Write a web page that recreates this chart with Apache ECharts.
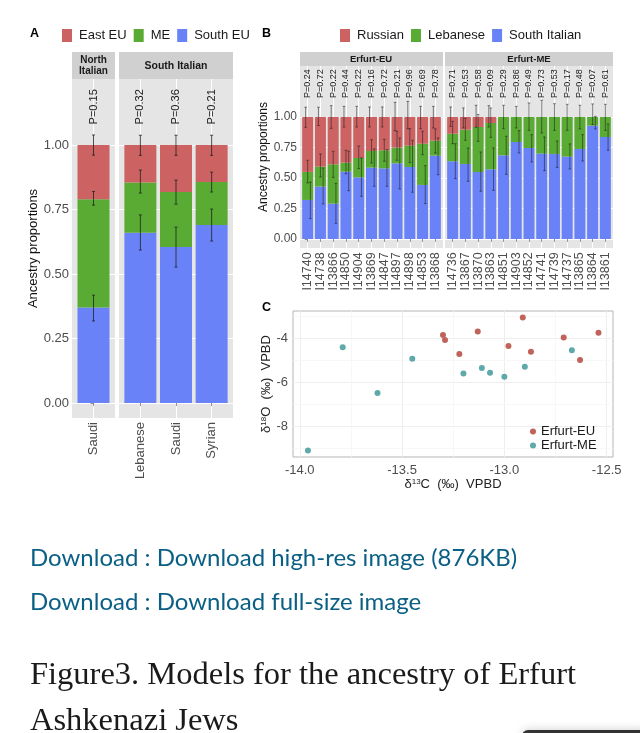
<!DOCTYPE html>
<html>
<head>
<meta charset="utf-8">
<style>html,body{margin:0;padding:0;background:#fff}#main{width:640px;height:733px}</style>
<script src="https://cdn.jsdelivr.net/npm/echarts@6/dist/echarts.min.js"></script>
</head>
<body>
<div id="main"></div>
<script>
// panel A
var aNames = ['Saudi', 'Lebanese', 'Saudi', 'Syrian'];
var aP = ['P=0.15', 'P=0.32', 'P=0.36', 'P=0.21'];
var aSouth = [0.37, 0.66, 0.605, 0.69];
var aMe = [0.42, 0.195, 0.213, 0.167];
var aEast = [0.21, 0.145, 0.182, 0.143];
var aEastErr = [[0.961, 1.039], [0.96, 1.038], [0.96, 1.038], [0.96, 1.038]];
var aMeErr = [[0.767, 0.82], [0.814, 0.903], [0.771, 0.864], [0.818, 0.895]];
var aSouthErr = [[0.318, 0.418], [0.593, 0.729], [0.527, 0.682], [0.628, 0.752]];

// panel B
var euNames = ['I14740', 'I14738', 'I13866', 'I14850', 'I14904', 'I13869', 'I14847', 'I14897', 'I14898', 'I14853', 'I13868'];
var euP = ['P=0.24', 'P=0.72', 'P=0.22', 'P=0.44', 'P=0.22', 'P=0.16', 'P=0.72', 'P=0.21', 'P=0.96', 'P=0.69', 'P=0.78'];
var euSouth = [0.32, 0.43, 0.29, 0.552, 0.505, 0.585, 0.579, 0.62, 0.59, 0.443, 0.683];
var euLeb = [0.23, 0.163, 0.322, 0.074, 0.159, 0.136, 0.148, 0.129, 0.175, 0.338, 0.123];
var euRus = [0.45, 0.407, 0.388, 0.374, 0.336, 0.279, 0.273, 0.251, 0.235, 0.219, 0.194];
var euRusErr = [[0.915, 1.08], [0.93, 1.08], [0.907, 1.093], [0.918, 1.087], [0.918, 1.087], [0.918, 1.082], [0.918, 1.082], [0.888, 1.12], [0.904, 1.128], [0.904, 1.087], [0.91, 1.087]];
var euLebErr = [[0.46, 0.645], [0.508, 0.697], [0.505, 0.719], [0.535, 0.727], [0.577, 0.762], [0.623, 0.814], [0.637, 0.817], [0.645, 0.883], [0.628, 0.904], [0.691, 0.883], [0.705, 0.902]];
var euSouthErr = [[0.167, 0.467], [0.287, 0.582], [0.126, 0.456], [0.396, 0.719], [0.35, 0.664], [0.432, 0.738], [0.432, 0.732], [0.41, 0.828], [0.383, 0.809], [0.29, 0.601], [0.527, 0.828]];

var meNames = ['I14736', 'I13867', 'I13870', 'I13863', 'I14851', 'I14903', 'I14852', 'I14741', 'I14739', 'I14737', 'I13865', 'I13864', 'I13861'];
var meP = ['P=0.71', 'P=0.53', 'P=0.58', 'P=0.09', 'P=0.29', 'P=0.86', 'P=0.49', 'P=0.73', 'P=0.53', 'P=0.17', 'P=0.48', 'P=0.07', 'P=0.61'];
var meSouth = [0.637, 0.615, 0.549, 0.571, 0.686, 0.795, 0.746, 0.70, 0.697, 0.675, 0.738, 0.929, 0.836];
var meLeb = [0.226, 0.281, 0.369, 0.38, 0.314, 0.205, 0.254, 0.30, 0.303, 0.325, 0.262, 0.071, 0.164];
var meRus = [0.137, 0.104, 0.082, 0.049, 0, 0, 0, 0, 0, 0, 0, 0, 0];
var meRusErr = [[0.923, 1.082], [0.91, 1.074], [0.915, 1.096], [0.918, 1.093]];
var meLebErr = [[0.781, 0.964], [0.809, 0.99], [0.80, 1.02], [0.833, 1.074], [0.904, 1.096], [0.91, 1.087], [0.891, 1.115], [0.869, 1.137], [0.891, 1.109], [0.891, 1.104], [0.902, 1.096], [0.937, 1.107], [0.891, 1.104]];
var meSouthErr = [[0.495, 0.781], [0.473, 0.746], [0.391, 0.713], [0.399, 0.746], [0.53, 0.842], [0.705, 0.888], [0.631, 0.855], [0.56, 0.836], [0.587, 0.803], [0.574, 0.779], [0.639, 0.855], [0.902, 1.005], [0.727, 0.943]];

// panel C
var cEU = [[-13.30, -3.86], [-13.29, -4.09], [-13.22, -4.73], [-13.13, -3.70], [-12.98, -4.36], [-12.91, -3.06], [-12.87, -4.62], [-12.71, -3.97], [-12.63, -5.0], [-12.54, -3.76]];
var cME = [[-13.96, -9.12], [-13.79, -4.42], [-13.62, -6.5], [-13.45, -4.94], [-13.2, -5.61], [-13.11, -5.36], [-13.07, -5.58], [-13.0, -5.76], [-12.9, -5.30], [-12.67, -4.56]];

var propTicks = [0, 0.25, 0.5, 0.75, 1];
var cXTicks = [-14, -13.5, -13, -12.5];
var cYTicks = [-8, -6, -4];
var cXMinor = [-13.75, -13.25, -12.75];
var cYMinor = [-9, -7, -5, -3];

var RED = '#cc6262', GREEN = '#5aab33', BLUE = '#6a82f8';
var FONT = '"Liberation Sans", Arial, sans-serif';

var grids = [], xAxes = [], yAxes = [], series = [];

function idx(list) {
    return list.map(function (v, i) { return i; });
}

// one facet: grey panel, value axes set up like ggplot's discrete expand
function addPanel(box, names, yMin, yMax, showY, yName, opt) {
    var n = grids.length;
    grids.push({ left: box[0], top: box[1], width: box[2], height: box[3], show: true, backgroundColor: '#e5e5e5', borderWidth: 0 });
    xAxes.push({
        type: 'value', gridIndex: n, min: -0.6, max: names.length - 0.4,
        axisLine: { show: false },
        axisTick: { show: true, length: 3, lineStyle: { color: '#666', width: 0.7 }, customValues: idx(names) },
        splitLine: { show: true, lineStyle: { color: '#fff', width: 1 } },
        axisLabel: {
            show: opt.xShow, rotate: 90, margin: 4, color: '#4d4d4d', fontFamily: FONT, fontSize: opt.xFont,
            showMinLabel: true, showMaxLabel: true,
            customValues: idx(names),
            formatter: function (v) { return names[v]; }
        }
    });
    yAxes.push({
        type: 'value', gridIndex: n, min: yMin, max: yMax,
        name: yName, nameLocation: 'middle', nameGap: opt.nameGap,
        nameTextStyle: { color: '#111', fontFamily: FONT, fontSize: opt.nameFont },
        axisLine: { show: false },
        axisTick: { show: showY, length: 3, lineStyle: { color: '#666', width: 0.7 }, customValues: propTicks },
        splitLine: { show: true, lineStyle: { color: '#fff', width: 1 } },
        axisLabel: {
            show: showY, margin: 3, color: '#4d4d4d', fontFamily: FONT, fontSize: opt.yFont,
            showMinLabel: true, showMaxLabel: true,
            customValues: propTicks,
            formatter: function (v) { return v.toFixed(2); }
        }
    });
    return n;
}

// proportion comes first in each row so that it is the stacked dimension
function addBars(n, name, color, values, width) {
    series.push({
        name: name, type: 'bar', stack: 'p' + n, xAxisIndex: n, yAxisIndex: n,
        barWidth: width, itemStyle: { color: color },
        encode: { x: 1, y: 0 },
        data: values.map(function (v, i) { return [v, i]; })
    });
}

function addErr(n, errs, offset, cap, color) {
    series.push({
        type: 'custom', xAxisIndex: n, yAxisIndex: n, z: 5, silent: true, clip: false,
        encode: { x: 0, y: [1, 2] },
        data: errs.map(function (e, i) { return [i, e[0], e[1]]; }),
        renderItem: function (params, api) {
            var lo = api.coord([api.value(0), api.value(1)]);
            var hi = api.coord([api.value(0), api.value(2)]);
            var x = lo[0] + offset;
            var st = { stroke: color, lineWidth: 0.8, fill: null };
            return {
                type: 'group',
                children: [
                    { type: 'line', shape: { x1: x, y1: lo[1], x2: x, y2: hi[1] }, style: st },
                    { type: 'line', shape: { x1: x - cap, y1: lo[1], x2: x + cap, y2: lo[1] }, style: st },
                    { type: 'line', shape: { x1: x - cap, y1: hi[1], x2: x + cap, y2: hi[1] }, style: st }
                ]
            };
        }
    });
}

// rotated text per bar: P values above, and sample ids in panel B where axisLabel drops overlapping ones
function addText(n, labels, at, fontSize, align, fill) {
    series.push({
        type: 'custom', xAxisIndex: n, yAxisIndex: n, z: 6, silent: true, clip: false,
        data: labels.map(function (t, i) { return [i, at]; }),
        encode: { x: 0, y: 1 },
        renderItem: function (params, api) {
            var p = api.coord([api.value(0), api.value(1)]);
            return {
                type: 'text', x: p[0], y: p[1], rotation: Math.PI / 2,
                style: { text: labels[params.dataIndex], textAlign: align, textVerticalAlign: 'middle', fill: fill, font: fontSize + 'px ' + FONT }
            };
        }
    });
}

var aOpt = { xShow: true, xFont: 13, yFont: 13, nameFont: 13, nameGap: 24 };
var bOpt = { xShow: false, xFont: 12.5, yFont: 12, nameFont: 12, nameGap: 26 };

// A, North Italian
var n = addPanel([72, 79, 43, 339], aNames.slice(0, 1), -0.058, 1.256, true, 'Ancestry proportions', aOpt);
addBars(n, 'South EU', BLUE, aSouth.slice(0, 1), 32);
addBars(n, 'ME', GREEN, aMe.slice(0, 1), 32);
addBars(n, 'East EU', RED, aEast.slice(0, 1), 32);
addErr(n, aEastErr.slice(0, 1), 0, 1.5, '#222');
addErr(n, aMeErr.slice(0, 1), 0, 1.5, '#222');
addErr(n, aSouthErr.slice(0, 1), 0, 1.5, '#222');
addText(n, aP.slice(0, 1), 1.08, 11, 'left', '#1a1a1a');

// A, South Italian
n = addPanel([119, 79, 114, 339], aNames.slice(1), -0.058, 1.256, false, '', aOpt);
addBars(n, 'South EU', BLUE, aSouth.slice(1), 32);
addBars(n, 'ME', GREEN, aMe.slice(1), 32);
addBars(n, 'East EU', RED, aEast.slice(1), 32);
addErr(n, aEastErr.slice(1), 0, 1.5, '#222');
addErr(n, aMeErr.slice(1), 0, 1.5, '#222');
addErr(n, aSouthErr.slice(1), 0, 1.5, '#222');
addText(n, aP.slice(1), 1.08, 11, 'left', '#1a1a1a');

// B, Erfurt-EU
n = addPanel([300, 66, 143, 182], euNames, -0.074, 1.418, true, 'Ancestry proportions', bOpt);
addBars(n, 'South Italian', BLUE, euSouth, 11);
addBars(n, 'Lebanese', GREEN, euLeb, 11);
addBars(n, 'Russian', RED, euRus, 11);
addErr(n, euRusErr, -2, 1.3, 'rgba(30,30,30,0.7)');
addErr(n, euLebErr, 0, 1.3, 'rgba(30,30,30,0.7)');
addErr(n, euSouthErr, 2.7, 1.3, 'rgba(30,30,30,0.7)');
addText(n, euP, 1.156, 9, 'left', '#1a1a1a');
addText(n, euNames, -0.11, 12.5, 'right', '#4d4d4d');

// B, Erfurt-ME
n = addPanel([445, 66, 168, 182], meNames, -0.074, 1.418, false, '', bOpt);
addBars(n, 'South Italian', BLUE, meSouth, 11);
addBars(n, 'Lebanese', GREEN, meLeb, 11);
addBars(n, 'Russian', RED, meRus, 11);
addErr(n, meRusErr, -2, 1.3, 'rgba(30,30,30,0.7)');
addErr(n, meLebErr, 0, 1.3, 'rgba(30,30,30,0.7)');
addErr(n, meSouthErr, 2.7, 1.3, 'rgba(30,30,30,0.7)');
addText(n, meP, 1.156, 9, 'left', '#1a1a1a');
addText(n, meNames, -0.11, 12.5, 'right', '#4d4d4d');

// C, scatter
var c = grids.length;
grids.push({ left: 293, top: 311, width: 320, height: 146, show: true, backgroundColor: '#fff', borderColor: '#b5b5b5', borderWidth: 1 });
xAxes.push({
    type: 'value', gridIndex: c, min: -14.033, max: -12.469,
    name: 'δ{sup|13}C  (‰)  VPBD', nameLocation: 'middle', nameGap: 21,
    nameTextStyle: { color: '#222', fontFamily: FONT, fontSize: 13, rich: { sup: { fontSize: 8, verticalAlign: 'bottom', padding: [0, 0, 5, 0], fontFamily: FONT, color: '#222' } } },
    axisLine: { show: false },
    axisTick: { show: false, customValues: cXTicks },
    splitLine: { show: true, lineStyle: { color: '#eeeeee', width: 1 } },
    axisLabel: { margin: 7, color: '#4d4d4d', fontFamily: FONT, fontSize: 13, customValues: cXTicks, showMinLabel: true, showMaxLabel: true, formatter: function (v) { return v.toFixed(1); } }
});
yAxes.push({
    type: 'value', gridIndex: c, min: -9.41, max: -2.77,
    name: 'δ{sup|18}O  (‰)  VPBD', nameLocation: 'middle', nameGap: 20,
    nameTextStyle: { color: '#222', fontFamily: FONT, fontSize: 13, rich: { sup: { fontSize: 8, verticalAlign: 'bottom', padding: [0, 0, 5, 0], fontFamily: FONT, color: '#222' } } },
    axisLine: { show: false },
    axisTick: { show: false, customValues: cYTicks },
    splitLine: { show: true, lineStyle: { color: '#eeeeee', width: 1 } },
    axisLabel: { margin: 5, color: '#4d4d4d', fontFamily: FONT, fontSize: 13, customValues: cYTicks }
});
series.push({
    type: 'scatter', xAxisIndex: c, yAxisIndex: c, silent: true, symbolSize: 0, z: 1, data: [],
    markLine: {
        silent: true, symbol: 'none', label: { show: false }, lineStyle: { color: '#f5f5f5', width: 0.8, type: 'solid' }, animation: false, z: 1,
        data: cXMinor.map(function (v) { return { xAxis: v }; }).concat(cYMinor.map(function (v) { return { yAxis: v }; }))
    }
});
series.push({ name: 'Erfurt-EU', type: 'scatter', xAxisIndex: c, yAxisIndex: c, symbolSize: 6, z: 8, clip: false, itemStyle: { color: '#c0635a', opacity: 1 }, data: cEU });
series.push({ name: 'Erfurt-ME', type: 'scatter', xAxisIndex: c, yAxisIndex: c, symbolSize: 6, z: 8, clip: false, itemStyle: { color: '#5fa9ab', opacity: 1 }, data: cME });

function strip(x, y, w, h) {
    return { type: 'rect', shape: { x: x, y: y, width: w, height: h }, style: { fill: '#d0d0d0' } };
}
function label(text, x, y, font, fill, align) {
    return { type: 'text', x: x, y: y, style: { text: text, font: font, fill: fill, textAlign: align || 'left', textVerticalAlign: 'middle' } };
}

var bold = 'bold 12.5px ' + FONT;
var graphics = [
    strip(72, 52, 43, 27), strip(119, 52, 114, 27), strip(300, 52, 143, 14), strip(445, 52, 168, 14),
    label('North', 93.5, 60, 'bold 10px ' + FONT, '#1a1a1a', 'center'),
    label('Italian', 93.5, 71, 'bold 10px ' + FONT, '#1a1a1a', 'center'),
    label('South Italian', 176, 66, 'bold 10.5px ' + FONT, '#1a1a1a', 'center'),
    label('Erfurt-EU', 371, 59.5, 'bold 9.5px ' + FONT, '#1a1a1a', 'center'),
    label('Erfurt-ME', 529, 59.5, 'bold 9.5px ' + FONT, '#1a1a1a', 'center'),
    label('A', 30, 34, bold, '#000'),
    label('B', 262, 34, bold, '#000'),
    label('C', 262, 308, bold, '#000'),
    label('Download : Download high-res image (876KB)', 30, 558, '24px Lato, "Open Sans", sans-serif', '#0a5f85'),
    label('Download : Download full-size image', 30, 602, '24px Lato, "Open Sans", sans-serif', '#0a5f85'),
    label('Figure3. Models for the ancestry of Erfurt', 30, 675, '32.5px "Liberation Serif", serif', '#1a1a1a'),
    label('Ashkenazi Jews', 30, 721, '32.5px "Liberation Serif", serif', '#1a1a1a'),
    { type: 'rect', shape: { x: 522, y: 730, width: 130, height: 20, r: 6 }, style: { fill: '#333', shadowBlur: 10, shadowColor: 'rgba(0,0,0,0.2)' } }
];

var legendText = { color: '#1a1a1a', fontFamily: FONT, fontSize: 13, padding: [0, 0, 0, 2] };
var chart = echarts.init(document.getElementById('main'));
chart.setOption({
    animation: false,
    backgroundColor: '#fff',
    grid: grids,
    xAxis: xAxes,
    yAxis: yAxes,
    legend: [
        { left: 62, top: 29, itemWidth: 10, itemHeight: 13, itemGap: 7, icon: 'rect', data: ['East EU', 'ME', 'South EU'], textStyle: legendText, selectedMode: false, padding: 0 },
        { left: 340, top: 29, itemWidth: 10, itemHeight: 13, itemGap: 7, icon: 'rect', data: ['Russian', 'Lebanese', 'South Italian'], textStyle: legendText, selectedMode: false, padding: 0 },
        { left: 530, top: 425, itemWidth: 6, itemHeight: 6, itemGap: 1, icon: 'circle', orient: 'vertical', data: ['Erfurt-EU', 'Erfurt-ME'], textStyle: { color: '#1a1a1a', fontFamily: FONT, fontSize: 13 }, selectedMode: false, padding: 0 }
    ],
    graphic: graphics,
    series: series
});
</script>
</body>
</html>
